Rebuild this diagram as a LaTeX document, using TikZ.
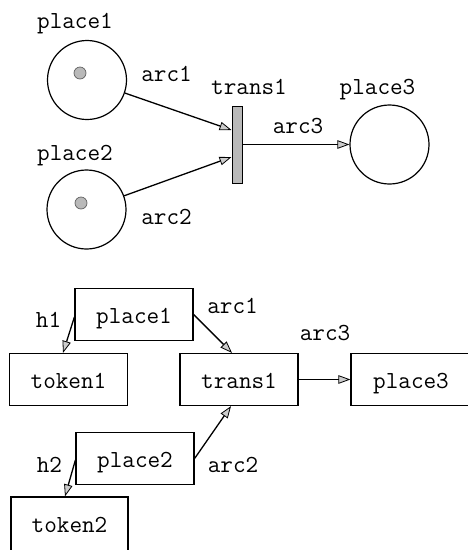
\documentclass[tikz,border=0pt]{standalone}
\usetikzlibrary{arrows.meta}
\begin{document}
\begin{tikzpicture}[x=1pt,y=-1pt,
  lbl/.style={font=\ttfamily\fontsize{24.5}{27}\selectfont, inner sep=0pt, anchor=base},
  place/.style={circle, draw, line width=1.2pt, minimum size=79pt, inner sep=0pt},
  tok/.style={circle, fill=gray!55, draw=gray!75!black, line width=0.7pt, minimum size=12pt, inner sep=0pt},
  bar/.style={rectangle, draw, fill=gray!55, line width=1pt, minimum width=10pt, minimum height=77pt, inner sep=0pt},
  box/.style={rectangle, draw, line width=1.2pt, minimum width=118pt, minimum height=52pt, inner sep=0pt,
    font=\ttfamily\fontsize{24.5}{27}\selectfont, text height=17pt, text depth=0pt},
  arc/.style={line width=1.3pt, -{Triangle[length=12pt, width=8.5pt, fill=gray!40, line width=0.8pt]}}]
\useasboundingbox (0,0) rectangle (468,550);

% ---- upper net ----
\node[place] (p1) at (87,80) {};
\node[place] (p2) at (86.5,209.5) {};
\node[place] (p3) at (389.5,144.5) {};
\node[tok] (k1) at (80,73) {};
\node[tok] (k2) at (81,203) {};
\node[bar] (t1) at (237,144.5) {};

\draw[arc] (p1.-19) -- ([yshift=14.5pt]t1.west);
\draw[arc] (p2.20) -- ([yshift=-12.5pt]t1.west);
\draw[arc] (t1.east) -- (p3.west);

\node[lbl] (lp1) at (75,28) {place1};
\node[lbl] (la1) at (166.5,81) {arc1};
\node[lbl] (lt1) at (249,94) {trans1};
\node[lbl] (lp3) at (377.5,94) {place3};
\node[lbl] (la3) at (298,133) {arc3};
\node[lbl] (lp2) at (75,160) {place2};
\node[lbl] (la2) at (166.5,224) {arc2};

% ---- lower graph ----
\node[box] (bp1) at (134,314.5) {place1};
\node[box] (bt1) at (68.5,379.5) {token1};
\node[box] (btr) at (239,379.5) {trans1};
\node[box, minimum width=120pt] (bp3) at (411,379.5) {place3};
\node[box] (bp2) at (135,458.5) {place2};
\node[box, minimum width=117pt, minimum height=54pt] (bt2) at (69.5,524) {token2};

\draw[arc] ([yshift=-2.5pt]bp1.west) -- ([xshift=-5.5pt]bt1.north);
\draw[arc] (bp1.east) -- ([xshift=-7pt]btr.north);
\draw[arc] (btr.east) -- (bp3.west);
\draw[arc] (bp2.east) -- ([xshift=-8pt]btr.south);
\draw[arc] ([yshift=-1.5pt]bp2.west) -- ([xshift=-4.5pt]bt2.north);

\node[lbl] (lh1) at (48.5,327) {h1};
\node[lbl] (lb1) at (232.5,313) {arc1};
\node[lbl] (lb3) at (325,340) {arc3};
\node[lbl] (lh2) at (49.5,472) {h2};
\node[lbl] (lb2) at (233,472) {arc2};
\end{tikzpicture}
\end{document}
